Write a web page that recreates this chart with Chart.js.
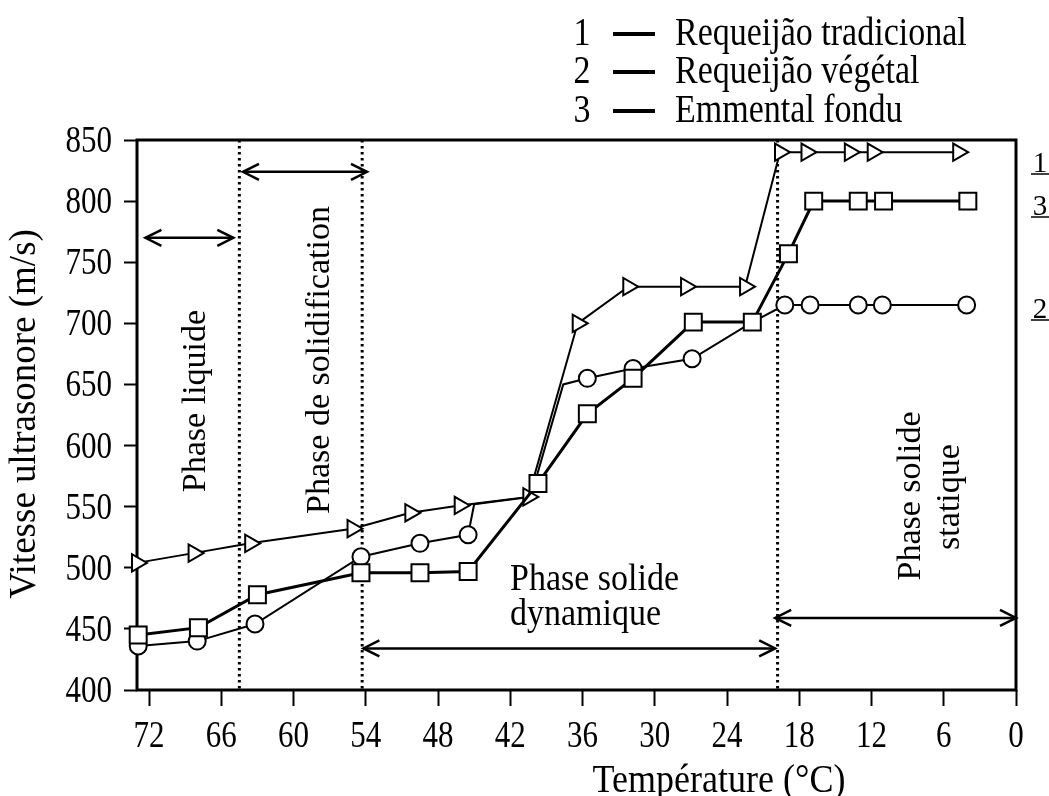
<!DOCTYPE html>
<html>
<head>
<meta charset="utf-8">
<title>Vitesse ultrasonore en fonction de la température</title>
<script src="https://cdn.jsdelivr.net/npm/chart.js"></script>
<style>
  html, body { margin: 0; padding: 0; background: #fff; }
  #chart { display: block; }
</style>
</head>
<body>
<canvas id="chart" width="1049" height="796"></canvas>
<script>
// --- data ---
const seriesNames = ['Requeijão tradicional', 'Requeijão végétal', 'Emmental fondu'];

// 1 - Requeijão tradicional (triangles)
const tempTrad = [73.0, 68.3, 63.6, 55.1, 50.3, 46.2, 40.5, 36.4, 32.2, 27.4, 22.5, 19.6, 17.4, 13.8, 11.9, 4.8];
const vitTrad  = [504, 512, 520, 532, 545, 551, 558, 700, 730, 730, 730, 840, 840, 840, 840, 840];

// 2 - Requeijão végétal (circles); some points of the curve sit under the other markers
const tempVeg  = [72.9, 68.0, 63.2, 54.4, 49.5, 45.5, 45.0, 40.3, 37.6, 35.6, 31.8, 26.9, 21.9, 19.2, 17.1, 13.1, 11.1, 4.1];
const vitVeg   = [436, 440, 454, 509, 520, 527, 552, 558, 650, 655, 663, 671, 701, 715, 715, 715, 715, 715];
const shownVeg = [1, 1, 1, 1, 1, 1, 0, 0, 0, 1, 1, 1, 0, 1, 1, 1, 1, 1];

// 3 - Emmental fondu (squares)
const tempEmm  = [72.9, 67.9, 63.0, 54.4, 49.5, 45.5, 39.7, 35.6, 31.8, 26.8, 21.9, 18.9, 16.8, 13.1, 11.0, 4.0];
const vitEmm   = [445, 451, 478, 496, 496, 497, 569, 626, 655, 701, 701, 757, 800, 800, 800, 800];

const xTicks = [72, 66, 60, 54, 48, 42, 36, 30, 24, 18, 12, 6, 0];
const yTicks = [400, 450, 500, 550, 600, 650, 700, 750, 800, 850];

// phase limits (°C) drawn as dotted lines
const phaseLimits = [64.5, 54.3, 19.8];

const FONT = '"Liberation Serif", "Times New Roman", serif';
const STRETCH = 1.2; // the scanned figure is a little taller than wide

function toPoints(xs, ys) {
  return xs.map((x, i) => ({ x: x, y: ys[i] }));
}

function drawText(ctx, text, x, y, size, opts) {
  opts = opts || {};
  ctx.save();
  ctx.translate(x, y);
  ctx.scale(1, opts.stretch || 1);
  if (opts.rotate) ctx.rotate(opts.rotate);
  ctx.font = size + 'px ' + FONT;
  ctx.fillStyle = '#000';
  ctx.textAlign = opts.align || 'left';
  ctx.textBaseline = 'alphabetic';
  ctx.fillText(text, 0, 0);
  ctx.restore();
}

function arrowHead(ctx, x, y, dir) {
  ctx.beginPath();
  ctx.moveTo(x + dir * 16, y - 8);
  ctx.lineTo(x, y);
  ctx.lineTo(x + dir * 16, y + 8);
  ctx.stroke();
}

function doubleArrow(ctx, x1, x2, y) {
  ctx.beginPath();
  ctx.moveTo(x1, y);
  ctx.lineTo(x2, y);
  ctx.stroke();
  arrowHead(ctx, x1, y, 1);
  arrowHead(ctx, x2, y, -1);
}

const decorPlugin = {
  id: 'decorPlugin',
  beforeDatasetsDraw(chart) {
    const { ctx, chartArea: { left, right, top, bottom }, scales: { x } } = chart;
    ctx.save();
    // frame
    ctx.strokeStyle = '#000';
    ctx.lineWidth = 3;
    ctx.strokeRect(left, top, right - left, bottom - top);
    // dotted phase limits
    ctx.setLineDash([2.5, 3.5]);
    phaseLimits.forEach(t => {
      const px = x.getPixelForValue(t);
      ctx.beginPath();
      ctx.moveTo(px, top);
      ctx.lineTo(px, bottom);
      ctx.stroke();
    });
    ctx.restore();
  },
  afterDraw(chart) {
    const { ctx, scales: { x, y } } = chart;
    ctx.save();
    ctx.strokeStyle = '#000';

    // tick labels (drawn here so they can be stretched like the scan)
    x.ticks.forEach(t => {
      drawText(ctx, String(t.value), x.getPixelForValue(t.value), 747, 31, { align: 'center', stretch: STRETCH });
    });
    y.ticks.forEach(t => {
      drawText(ctx, String(t.value), 112, y.getPixelForValue(t.value) + 12, 31, { align: 'right', stretch: STRETCH });
    });

    // phase arrows
    ctx.lineWidth = 2.5;
    doubleArrow(ctx, x.getPixelForValue(72.3), x.getPixelForValue(65.0), y.getPixelForValue(770));
    doubleArrow(ctx, x.getPixelForValue(64.2), x.getPixelForValue(53.9), y.getPixelForValue(824));
    doubleArrow(ctx, x.getPixelForValue(54.2), x.getPixelForValue(20.0), y.getPixelForValue(434));
    doubleArrow(ctx, x.getPixelForValue(20.0), x.getPixelForValue(0), y.getPixelForValue(459));

    // phase names
    drawText(ctx, 'Phase liquide', 205, 401, 34, { rotate: -Math.PI / 2, align: 'center' });
    drawText(ctx, 'Phase de solidification', 329, 360, 34, { rotate: -Math.PI / 2, align: 'center' });
    drawText(ctx, 'Phase solide', 510, 590, 34, { stretch: 1.12 });
    drawText(ctx, 'dynamique', 510, 625, 34, { stretch: 1.12 });
    drawText(ctx, 'Phase solide', 920, 496, 34, { rotate: -Math.PI / 2, align: 'center' });
    drawText(ctx, 'statique', 959, 497, 34, { rotate: -Math.PI / 2, align: 'center' });

    // axis titles
    drawText(ctx, 'Vitesse ultrasonore (m/s)', 35, 414, 37, { rotate: -Math.PI / 2, align: 'center' });
    drawText(ctx, 'Température (°C)', 719, 792, 36, { align: 'center', stretch: 1.1 });

    // curve numbers on the right, underlined
    const endLabels = [['1', 172], ['3', 215], ['2', 318]];
    ctx.lineWidth = 1.5;
    endLabels.forEach(([t, by]) => {
      drawText(ctx, t, 1040, by, 29, { align: 'center' });
      ctx.beginPath();
      ctx.moveTo(1031, by + 2);
      ctx.lineTo(1049, by + 2);
      ctx.stroke();
    });

    // legend
    const legendBase = [45, 83, 122];
    ctx.lineWidth = 4;
    seriesNames.forEach((name, i) => {
      const by = legendBase[i];
      drawText(ctx, String(i + 1), 582, by, 34, { align: 'center', stretch: STRETCH });
      ctx.beginPath();
      ctx.moveTo(613, by - 11);
      ctx.lineTo(655, by - 11);
      ctx.stroke();
      drawText(ctx, name, 675, by, 34, { stretch: STRETCH });
    });
    ctx.restore();
  }
};

const tickGrid = (len) => ({
  display: true,
  drawOnChartArea: false,
  drawTicks: true,
  tickLength: len,
  tickWidth: 2,
  tickColor: '#000'
});

new Chart(document.getElementById('chart'), {
  type: 'line',
  data: {
    datasets: [
      {
        label: seriesNames[0],
        data: toPoints(tempTrad, vitTrad),
        borderColor: '#000',
        borderWidth: 2,
        pointStyle: 'triangle',
        pointRotation: 90,
        pointRadius: 10,
        pointBorderWidth: 2,
        pointBorderColor: '#000',
        pointBackgroundColor: '#fff',
        tension: 0,
        clip: false,
        order: 1
      },
      {
        label: seriesNames[1],
        data: toPoints(tempVeg, vitVeg),
        borderColor: '#000',
        borderWidth: 2,
        pointStyle: 'circle',
        pointRadius: shownVeg.map(s => s ? 8.5 : 0),
        pointBorderWidth: 2,
        pointBorderColor: '#000',
        pointBackgroundColor: '#fff',
        tension: 0,
        clip: false,
        order: 2
      },
      {
        label: seriesNames[2],
        data: toPoints(tempEmm, vitEmm),
        borderColor: '#000',
        borderWidth: 3,
        pointStyle: 'rect',
        pointRadius: 12,
        pointBorderWidth: 2,
        pointBorderColor: '#000',
        pointBackgroundColor: '#fff',
        tension: 0,
        clip: false,
        order: 0
      }
    ]
  },
  options: {
    responsive: false,
    devicePixelRatio: 1,
    animation: false,
    events: [],
    layout: { padding: { top: 140, right: 33, left: 0, bottom: 0 } },
    plugins: {
      legend: { display: false },
      tooltip: { enabled: false }
    },
    scales: {
      x: {
        type: 'linear',
        reverse: true,
        min: 0,
        max: 73,
        afterBuildTicks: scale => { scale.ticks = xTicks.map(v => ({ value: v })); },
        afterFit: scale => { scale.height = 106; },
        grid: tickGrid(16),
        border: { display: false },
        ticks: { display: false }
      },
      y: {
        type: 'linear',
        min: 400,
        max: 850,
        afterBuildTicks: scale => { scale.ticks = yTicks.map(v => ({ value: v })); },
        afterFit: scale => { scale.width = 137; },
        grid: tickGrid(13),
        border: { display: false },
        ticks: { display: false }
      }
    }
  },
  plugins: [decorPlugin]
});
</script>
</body>
</html>
